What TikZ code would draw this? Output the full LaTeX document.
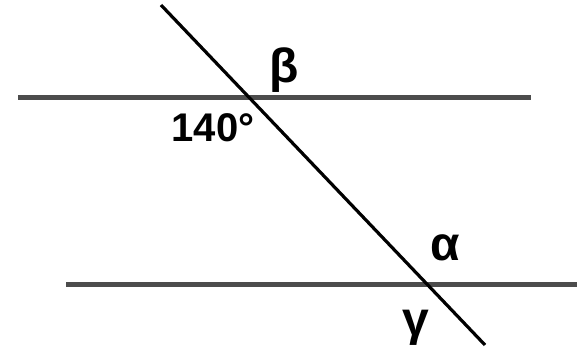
\documentclass[tikz,border=0pt]{standalone}
\usepackage{fontspec}
\setmainfont{Liberation Sans}
\usetikzlibrary{positioning}

\begin{document}
\begin{tikzpicture}[x=1pt,y=-1pt,font=\bfseries\fontsize{48}{54}\selectfont]
\tikzstyle{par}=[draw=black!70,line width=5pt]
\tikzstyle{trans}=[draw=black,line width=3.2pt]
\tikzstyle{lab}=[inner sep=0pt,anchor=center]
\useasboundingbox (0,0) rectangle (579,354);
% parallel lines
\coordinate (a1) at (18,97);
\coordinate (a2) at (531,97);
\coordinate (b1) at (66,284);
\coordinate (b2) at (577,284);
\draw[par] (a1) -- (a2);
\draw[par] (b1) -- (b2);
% transversal
\coordinate (t1) at (161,5);
\coordinate (t2) at (485,345);
\draw[trans] (t1) -- (t2);
% angle labels
\node[lab] (beta) at (284,70) {β};
\node[lab] (ang) at (213,128) {\fontsize{40}{44}\selectfont 140°};
\node[lab] (alpha) at (445,248) {α};
\node[lab] (gamma) at (416,328) {γ};
\end{tikzpicture}
\end{document}
